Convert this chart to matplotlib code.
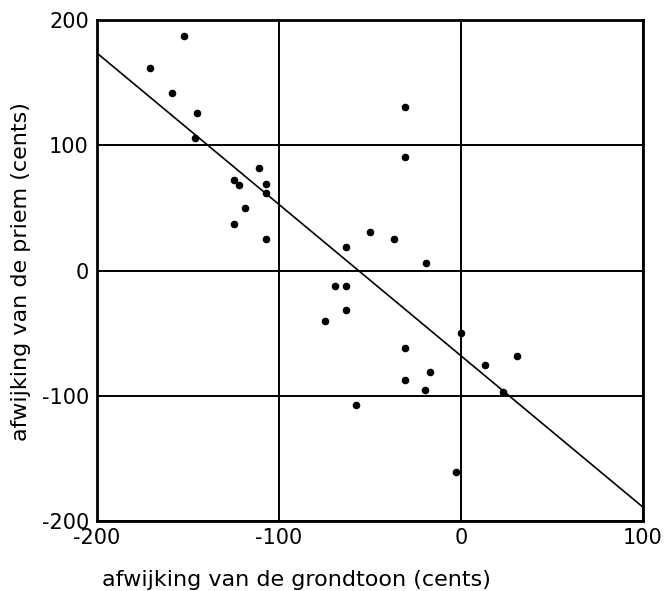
import matplotlib
matplotlib.use("Agg")
import matplotlib.pyplot as plt
import numpy as np

plt.rcParams['font.family'] = ['DejaVu Sans']
plt.rcParams['axes.unicode_minus'] = False

# afwijking grondtoon (x) en priem (y), in cents
grondtoon = [-171, -152, -159, -145, -146, -111, -125, -122, -107, -107,
             -119, -125, -107, -63, -50, -37, -31, -31, -19, -69,
             -63, -63, -75, -31, 0, 13, 31, -17, -31, -20,
             23, -58, -3]
priem = [162, 187, 142, 126, 106, 82, 72, 68, 69, 62,
         50, 37, 25, 19, 31, 25, 131, 91, 6, -12,
         -12, -31, -40, -62, -50, -75, -68, -81, -87, -95,
         -97, -107, -161]

# regressielijn
lijn_x = [-200, 100]
helling = -1.208
snijpunt = -68.0

fig = plt.figure(figsize=(6.65, 5.91), dpi=100)
ax = fig.add_axes([0.146, 0.118, 0.821, 0.848])

ax.set_xlim(-200, 100)
ax.set_ylim(-200, 200)
ax.set_xticks([-200, -100, 0, 100])
ax.set_yticks([-200, -100, 0, 100, 200])
ax.grid(True, color="black", linewidth=1.4)
ax.set_axisbelow(True)

lx = np.array(lijn_x)
ax.plot(lx, helling * lx + snijpunt, color="black", linewidth=1.2)
ax.scatter(grondtoon, priem, s=20, color="black", zorder=3)

for s in ax.spines.values():
    s.set_linewidth(2)
ax.tick_params(length=0, labelsize=15)
ax.tick_params(axis="x", pad=5)
ax.tick_params(axis="y", pad=6)
ax.set_xlabel("afwijking van de grondtoon (cents)", fontsize=16, va="center")
ax.set_ylabel("afwijking van de priem (cents)", fontsize=16, va="center")
ax.xaxis.set_label_coords(0.365, -0.117)
ax.yaxis.set_label_coords(-0.139, 0.498)

fig.savefig("out.png", dpi=100)
